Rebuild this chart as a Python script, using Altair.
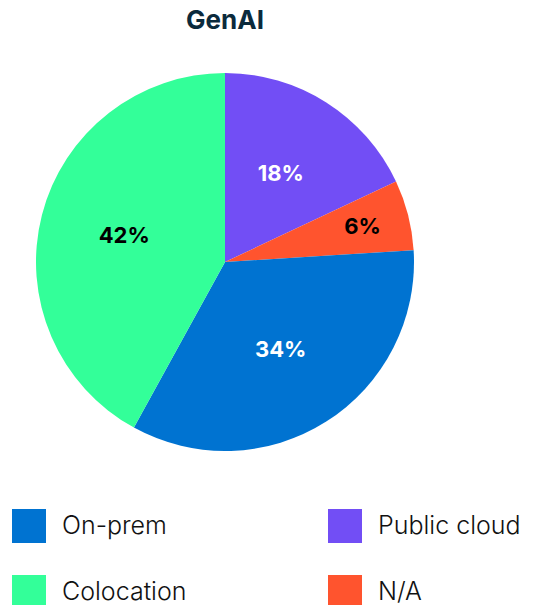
import altair as alt
import pandas as pd

categories = ["Public cloud", "N/A", "On-prem", "Colocation"]
values = [18, 6, 34, 42]
order = [1, 2, 3, 4]
legend_order = ["On-prem", "Colocation", "Public cloud", "N/A"]
colors = ["#0073D1", "#33FF99", "#724EF5", "#FF542E"]

df = pd.DataFrame({"category": categories, "value": values, "order": order})
df["label"] = df["value"].astype(str) + "%"

cx, cy = 217, 220

base = alt.Chart(df).encode(
    theta=alt.Theta("value:Q", stack=True),
    order=alt.Order("order:Q"),
)

pie = base.mark_arc(outerRadius=189).encode(
    color=alt.Color(
        "category:N",
        scale=alt.Scale(domain=legend_order, range=colors),
        legend=alt.Legend(
            title=None,
            orient="none",
            legendX=4,
            legendY=467,
            columns=2,
            columnPadding=141,
            rowPadding=32,
            symbolType="square",
            symbolSize=1156,
            symbolStrokeWidth=0,
            symbolOpacity=1,
            labelFont="Inter",
            labelFontSize=25,
            labelFontWeight=300,
            labelColor="#111111",
            labelOffset=16,
            labelLimit=300,
        ),
    ),
    x=alt.value(cx),
    y=alt.value(cy),
)

label_color = alt.condition(
    alt.FieldOneOfPredicate(field="category", oneOf=["Public cloud", "On-prem"]),
    alt.value("white"),
    alt.value("black"),
)

text_big = base.mark_text(font="Inter", fontSize=22, fontWeight="bold", radius=104).encode(
    text="label:N",
    color=label_color,
    x=alt.value(cx),
    y=alt.value(cy),
    opacity=alt.condition(alt.datum.value < 10, alt.value(0), alt.value(1)),
)

text_small = base.mark_text(font="Inter", fontSize=22, fontWeight="bold", radius=142).encode(
    text="label:N",
    color=label_color,
    x=alt.value(cx),
    y=alt.value(cy),
    opacity=alt.condition(alt.datum.value < 10, alt.value(1), alt.value(0)),
)

chart = (
    alt.layer(pie, text_big, text_small)
    .properties(
        width=434,
        height=563,
        padding={"left": 0, "top": 34, "right": 92, "bottom": 0},
        autosize=alt.AutoSizeParams(type="none"),
        title=alt.TitleParams(
            "GenAI",
            font="Inter",
            fontSize=26,
            fontWeight="bold",
            color="#0B2A3C",
            anchor="middle",
            baseline="alphabetic",
            offset=13,
            dy=26,
        ),
    )
    .configure_view(stroke=None)
)

chart.save("out.html", embed_options={"renderer": "svg", "actions": False})
